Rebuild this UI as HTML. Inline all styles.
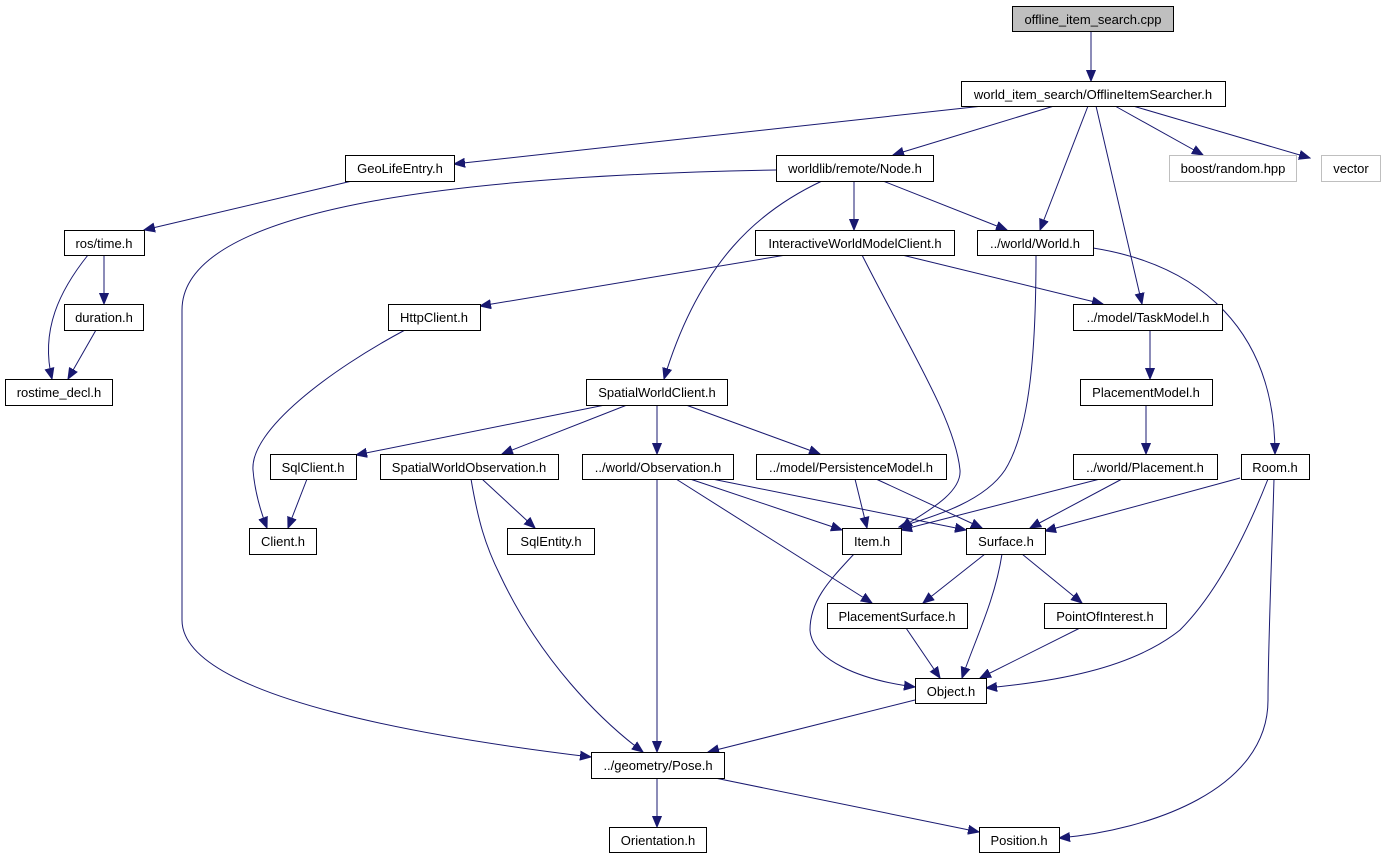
<!DOCTYPE html>
<html><head><meta charset="utf-8"><style>
html,body{margin:0;padding:0;background:#fff;}
svg{display:block;}
text{font-family:"Liberation Sans",sans-serif;font-size:13px;fill:#000;}
</style></head><body>
<svg width="1381" height="859" viewBox="0 0 1381 859" xmlns="http://www.w3.org/2000/svg">
<defs>
<marker id="a" markerWidth="12" markerHeight="10" refX="11" refY="5" orient="auto" markerUnits="userSpaceOnUse">
<path d="M0,0.5 L11,5 L0,9.5 Z" fill="#191970" stroke="#191970"/>
</marker>
</defs>
<g fill="none" stroke="#191970" stroke-width="1" marker-end="url(#a)">
<path d="M1091,31 L1091,81"/>
<path d="M983,106 L454,164"/>
<path d="M1054,106 L893,155"/>
<path d="M1088,106 L1040,230"/>
<path d="M1096,106 L1142,304"/>
<path d="M1115,106 L1203,155"/>
<path d="M1133,106 L1310,158"/>
<path d="M352,181 L144,230"/>
<path d="M776,170 C500,175 182,200 182,310 L182,620 C182,700 450,740 591,757"/>
<path d="M822,181 C760,210 700,260 664,379"/>
<path d="M854,181 L854,230"/>
<path d="M883,181 L1007,230"/>
<path d="M88,255 C60,290 40,330 52,379"/>
<path d="M104,255 L104,304"/>
<path d="M96,330 L68,379"/>
<path d="M786,255 L480,306"/>
<path d="M902,255 L1103,304"/>
<path d="M862,255 C910,350 955,420 960,470 C962,495 920,515 901,528"/>
<path d="M1036,255 C1036,350 1030,430 1005,470 C985,500 940,515 899,527"/>
<path d="M1093,248 C1200,265 1275,330 1275,454"/>
<path d="M405,330 C330,370 250,430 253,470 C255,495 262,515 267,528"/>
<path d="M1150,330 L1150,379"/>
<path d="M605,405 L356,455"/>
<path d="M627,405 L502,454"/>
<path d="M657,405 L657,454"/>
<path d="M686,405 L820,454"/>
<path d="M1146,405 L1146,454"/>
<path d="M307,479 L288,528"/>
<path d="M471,479 C478,520 485,545 500,575 C540,660 600,720 643,752"/>
<path d="M482,479 L535,528"/>
<path d="M657,479 L657,752"/>
<path d="M690,479 L842,530"/>
<path d="M712,479 L966,530"/>
<path d="M676,479 L872,603"/>
<path d="M855,479 L867,528"/>
<path d="M876,479 L982,528"/>
<path d="M1100,479 L901,530"/>
<path d="M1122,479 L1030,528"/>
<path d="M1240,478 L1045,531"/>
<path d="M1268,479 C1240,550 1210,600 1180,630 C1130,670 1050,682 986,688"/>
<path d="M1274,479 C1272,550 1268,650 1268,700 C1268,790 1150,830 1059,838"/>
<path d="M854,554 C830,580 810,600 810,630 C812,660 860,680 915,687"/>
<path d="M985,554 L923,603"/>
<path d="M1002,554 C995,600 975,640 962,678"/>
<path d="M1022,554 L1082,603"/>
<path d="M906,628 L940,678"/>
<path d="M1080,628 L980,678"/>
<path d="M915,700 L708,752"/>
<path d="M657,778 L657,827"/>
<path d="M715,778 L979,832"/>
</g>
<g stroke="#000" stroke-width="1">
<rect x="1012.5" y="6.5" width="161" height="25" fill="#bfbfbf"/>
<rect x="961.5" y="81.5" width="264" height="25" fill="#fff"/>
<rect x="345.5" y="155.5" width="109" height="26" fill="#fff"/>
<rect x="776.5" y="155.5" width="157" height="26" fill="#fff"/>
<rect x="1169.5" y="155.5" width="127" height="26" fill="#fff" stroke="#bfbfbf"/>
<rect x="1321.5" y="155.5" width="59" height="26" fill="#fff" stroke="#bfbfbf"/>
<rect x="64.5" y="230.5" width="80" height="25" fill="#fff"/>
<rect x="755.5" y="230.5" width="199" height="25" fill="#fff"/>
<rect x="977.5" y="230.5" width="116" height="25" fill="#fff"/>
<rect x="64.5" y="304.5" width="79" height="26" fill="#fff"/>
<rect x="388.5" y="304.5" width="92" height="26" fill="#fff"/>
<rect x="1073.5" y="304.5" width="149" height="26" fill="#fff"/>
<rect x="5.5" y="379.5" width="107" height="26" fill="#fff"/>
<rect x="586.5" y="379.5" width="141" height="26" fill="#fff"/>
<rect x="1080.5" y="379.5" width="132" height="26" fill="#fff"/>
<rect x="270.5" y="454.5" width="86" height="25" fill="#fff"/>
<rect x="380.5" y="454.5" width="178" height="25" fill="#fff"/>
<rect x="582.5" y="454.5" width="151" height="25" fill="#fff"/>
<rect x="756.5" y="454.5" width="190" height="25" fill="#fff"/>
<rect x="1073.5" y="454.5" width="144" height="25" fill="#fff"/>
<rect x="1241.5" y="454.5" width="68" height="25" fill="#fff"/>
<rect x="249.5" y="528.5" width="67" height="26" fill="#fff"/>
<rect x="507.5" y="528.5" width="87" height="26" fill="#fff"/>
<rect x="842.5" y="528.5" width="59" height="26" fill="#fff"/>
<rect x="966.5" y="528.5" width="79" height="26" fill="#fff"/>
<rect x="827.5" y="603.5" width="140" height="25" fill="#fff"/>
<rect x="1044.5" y="603.5" width="122" height="25" fill="#fff"/>
<rect x="915.5" y="678.5" width="71" height="25" fill="#fff"/>
<rect x="591.5" y="752.5" width="133" height="26" fill="#fff"/>
<rect x="609.5" y="827.5" width="97" height="25" fill="#fff"/>
<rect x="979.5" y="827.5" width="80" height="25" fill="#fff"/>
</g>
<g text-anchor="middle">
<text x="1093" y="24">offline_item_search.cpp</text>
<text x="1093" y="99">world_item_search/OfflineItemSearcher.h</text>
<text x="400" y="173">GeoLifeEntry.h</text>
<text x="855" y="173">worldlib/remote/Node.h</text>
<text x="1233" y="173">boost/random.hpp</text>
<text x="1351" y="173">vector</text>
<text x="104" y="248">ros/time.h</text>
<text x="855" y="248">InteractiveWorldModelClient.h</text>
<text x="1035" y="248">../world/World.h</text>
<text x="104" y="322">duration.h</text>
<text x="434" y="322">HttpClient.h</text>
<text x="1148" y="322">../model/TaskModel.h</text>
<text x="59" y="397">rostime_decl.h</text>
<text x="657" y="397">SpatialWorldClient.h</text>
<text x="1146" y="397">PlacementModel.h</text>
<text x="313" y="472">SqlClient.h</text>
<text x="469" y="472">SpatialWorldObservation.h</text>
<text x="658" y="472">../world/Observation.h</text>
<text x="851" y="472">../model/PersistenceModel.h</text>
<text x="1145" y="472">../world/Placement.h</text>
<text x="1275" y="472">Room.h</text>
<text x="283" y="546">Client.h</text>
<text x="551" y="546">SqlEntity.h</text>
<text x="872" y="546">Item.h</text>
<text x="1006" y="546">Surface.h</text>
<text x="897" y="621">PlacementSurface.h</text>
<text x="1105" y="621">PointOfInterest.h</text>
<text x="951" y="696">Object.h</text>
<text x="658" y="770">../geometry/Pose.h</text>
<text x="658" y="845">Orientation.h</text>
<text x="1019" y="845">Position.h</text>
</g>
</svg>
</body></html>
